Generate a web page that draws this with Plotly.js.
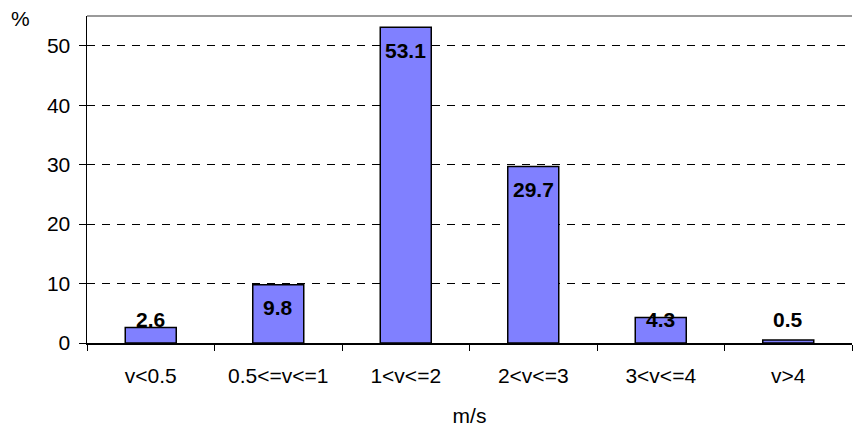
<!DOCTYPE html>
<html>
<head>
<meta charset="utf-8">
<script src="https://cdn.plot.ly/plotly-3.0.1.min.js"></script>
<style>
  html, body { margin: 0; padding: 0; background: #fff; }
  #chart { width: 854px; height: 428px; }
</style>
</head>
<body>
<div id="chart"></div>
<script>
// Wind speed classes and the share of observations in each (%)
const speedClasses = ["v<0.5", "0.5<=v<=1", "1<v<=2", "2<v<=3", "3<v<=4", "v>4"];
const sharePercent = [2.6, 9.8, 53.1, 29.7, 4.3, 0.5];
const yTickValues = [0, 10, 20, 30, 40, 50];

const FONT = "Liberation Sans, Arial, sans-serif";
const Y_MAX = 55;
const PLOT_H = 428 - 15.5 - 85;          // plot height in px
const PX_PER_UNIT = PLOT_H / Y_MAX;

const bars = {
  type: "bar",
  x: speedClasses,
  y: sharePercent,
  width: 0.4,
  marker: { color: "#8080FF", line: { color: "#000000", width: 1.5 } },
  hoverinfo: "skip"
};

// Value labels: sit just inside the top of the bar, but never lower
// than a fixed distance above the baseline.
const valueLabels = sharePercent.map((v, i) => {
  const inside = v * PX_PER_UNIT > 47;
  return {
    x: speedClasses[i],
    y: inside ? v : 0,
    xref: "x", yref: "y",
    yshift: inside ? -23 : 24,
    text: "<b>" + v.toFixed(1) + "</b>",
    showarrow: false,
    xanchor: "center", yanchor: "middle",
    font: { family: FONT, size: 21, color: "#000000" }
  };
});

const layout = {
  width: 854,
  height: 428,
  margin: { l: 87, r: 2, t: 15.5, b: 85 },
  paper_bgcolor: "#ffffff",
  plot_bgcolor: "#ffffff",
  showlegend: false,
  bargap: 0.6,
  xaxis: {
    type: "category",
    tickson: "boundaries",
    ticks: "outside",
    ticklen: 6,
    tickcolor: "#000000",
    tickwidth: 1,
    showline: true,
    linecolor: "#000000",
    linewidth: 1.5,
    showgrid: false,
    ticklabelstandoff: 13,
    tickfont: { family: FONT, size: 21, color: "#000000" },
    title: { text: "m/s", font: { family: FONT, size: 21, color: "#000000" }, standoff: 22 },
    fixedrange: true
  },
  yaxis: {
    range: [0, Y_MAX],
    tickvals: yTickValues,
    ticktext: yTickValues.map(String),
    ticks: "outside",
    ticklen: 7,
    tickcolor: "#000000",
    tickwidth: 1,
    showline: true,
    linecolor: "#000000",
    linewidth: 1.5,
    showgrid: true,
    gridcolor: "#000000",
    gridwidth: 1,
    griddash: "8px,7px",
    zeroline: false,
    ticklabelstandoff: 4,
    tickfont: { family: FONT, size: 21, color: "#000000" },
    fixedrange: true
  },
  shapes: [
    { type: "line", xref: "paper", yref: "paper", x0: 0, x1: 1, y0: 1, y1: 1,
      line: { color: "#9a9a9a", width: 2 } }
  ],
  annotations: valueLabels.concat([
    { text: "%", xref: "paper", yref: "paper", x: -0.0863, y: 1.0, xanchor: "center", yanchor: "middle",
      yshift: -2, showarrow: false,
      font: { family: FONT, size: 21, color: "#000000" } }
  ])
};

Plotly.newPlot("chart", [bars], layout, { staticPlot: true, displayModeBar: false });
</script>
</body>
</html>
